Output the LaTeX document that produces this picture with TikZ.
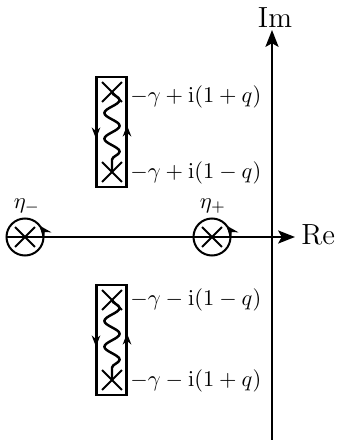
\documentclass[tikz,border=0pt]{standalone}
\usetikzlibrary{arrows.meta,shapes.misc,decorations.pathmorphing,decorations.markings}
\begin{document}
\begin{tikzpicture}[x=0.446pt,y=0.446pt,
  axis/.style={line width=1.05pt,-{Stealth[length=7.5pt,width=5.8pt,inset=1.6pt]}},
  pole/.style={cross out,draw,line width=0.9pt,minimum size=8pt,inner sep=0pt},
  cutbox/.style={draw,line width=0.9pt,minimum width=29*0.446pt,minimum height=110*0.446pt,inner sep=0pt},
  lbl/.style={anchor=west,inner sep=0pt,font=\fontsize{10}{12}\selectfont},
  big/.style={inner sep=0pt,font=\fontsize{13}{15}\selectfont},
  midarrow/.style={line width=0.9pt,decoration={markings,mark=at position 0.56 with {\arrow{Stealth[length=5pt,width=3.8pt]}}},postaction={decorate}},
  circline/.style={line width=0.9pt},
  circhead/.style={line width=0.9pt,-{Stealth[length=5.5pt,width=4.5pt]}},
  wave/.style={line width=1.1pt,decorate,decoration={snake,segment length=11.5pt,amplitude=3.4pt}}]
\useasboundingbox (0,0) rectangle (338,448);
% axes
\coordinate (xs) at (7,211);
\coordinate (xe) at (295,211);
\coordinate (ys) at (272,8);
\coordinate (ye) at (272,418);
\draw[axis] (xs) -- (xe);
\draw[axis] (ys) -- (ye);
\node[big] (im) at (275,430) {Im};
\node[big,anchor=west] (re) at (301,213) {Re};
% poles on real axis
\node[pole] (em) at (25,211) {};
\node[pole] (ep) at (212,211) {};
\draw[circline] (em) circle[radius=18.5];
\draw[circline] (ep) circle[radius=18.5];
\draw[circhead] (em.center) ++(0:18.5) arc (0:38:18.5);
\draw[circhead] (ep.center) ++(0:18.5) arc (0:38:18.5);
\node (eml) at (27,242) {$\eta_-$};
\node (epl) at (213,242) {$\eta_+$};
% upper cut
\node[cutbox] (b1) at (111.5,316) {};
\node[pole] (p1) at (112,356) {};
\node[pole] (p2) at (112,276) {};
\draw[wave] (p1.center) -- (p2.center);
\draw[midarrow] (b1.north west) -- (b1.south west);
\draw[midarrow] (b1.south east) -- (b1.north east);
\node[lbl] (l1) at (130,351) {$-\gamma+\mathrm{i}(1+q)$};
\node[lbl] (l2) at (130,275) {$-\gamma+\mathrm{i}(1-q)$};
% lower cut
\node[cutbox] (b2) at (111.5,108) {};
\node[pole] (p3) at (112,148) {};
\node[pole] (p4) at (112,68) {};
\draw[wave] (p3.center) -- (p4.center);
\draw[midarrow] (b2.north west) -- (b2.south west);
\draw[midarrow] (b2.south east) -- (b2.north east);
\node[lbl] (l3) at (130,148) {$-\gamma-\mathrm{i}(1-q)$};
\node[lbl] (l4) at (130,67) {$-\gamma-\mathrm{i}(1+q)$};
\end{tikzpicture}
\end{document}
